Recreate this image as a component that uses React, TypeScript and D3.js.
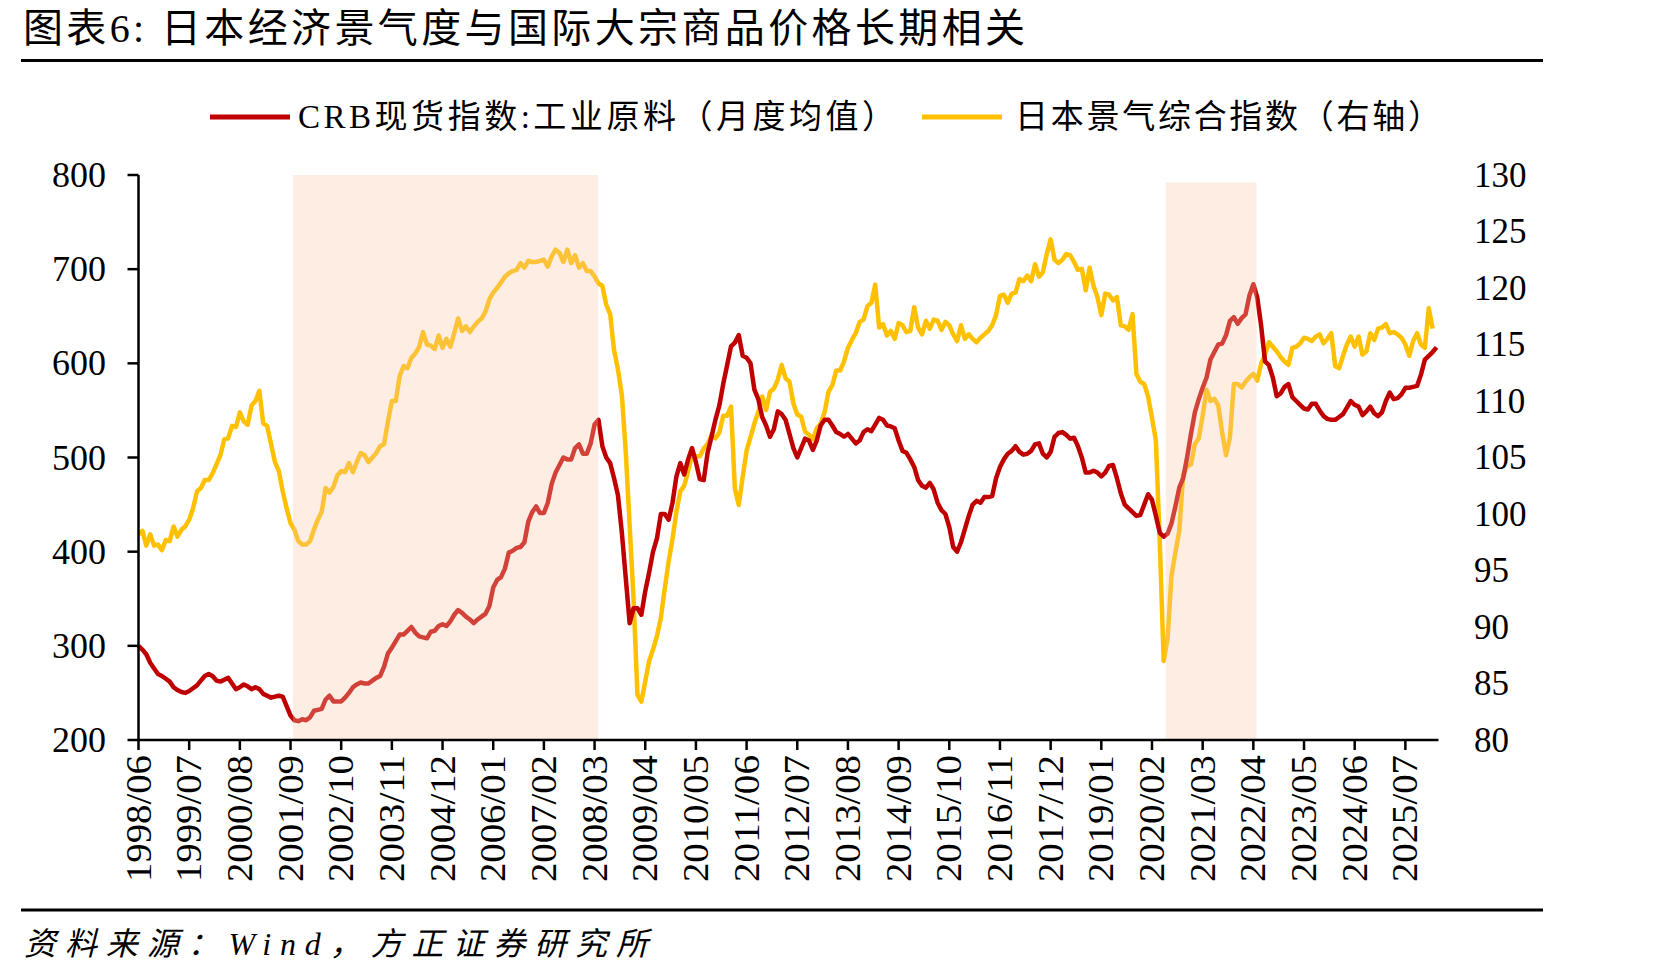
import * as d3 from "d3";
import React from "react";

// CRB spot index: industrials, monthly average, from 1998/06
const crb = [
  300, 296, 291, 282, 276, 270, 268, 265, 262, 256,
  253, 251, 250, 252, 255, 258, 263, 268, 270, 268,
  263, 262, 264, 266, 260, 254, 256, 259, 257, 254,
  256, 254, 249, 247, 245, 246, 247, 246, 236, 226,
  221, 220, 222, 221, 224, 231, 232, 233, 243, 247,
  241, 241, 241, 245, 250, 256, 259, 261, 260, 260,
  263, 266, 268, 278, 292, 298, 305, 312, 312, 316,
  320, 314, 310, 309, 308, 315, 316, 321, 323, 321,
  326, 333, 338, 335, 331, 328, 324, 328, 331, 334,
  342, 362, 370, 373, 382, 399, 401, 404, 405, 410,
  432, 442, 448, 441, 441, 452, 472, 484, 492, 500,
  498, 498, 510, 514, 504, 504, 515, 535, 540, 512,
  500, 494, 478, 460, 420, 372, 324, 340, 340, 333,
  358, 378, 400, 414, 440, 440, 434, 452, 480, 494,
  482, 498, 510, 495, 477, 476, 505, 522, 540, 555,
  578, 598, 618, 622, 630, 608, 606, 600, 572, 562,
  543, 534, 522, 530, 549, 546, 540, 525, 510, 500,
  510, 520, 518, 508, 518, 534, 540, 540, 534, 527,
  525, 522, 525, 520, 515, 518, 527, 530, 528, 535,
  542, 540, 534, 533, 531, 518, 507, 505, 498, 490,
  476, 470, 468, 473, 466, 452, 444, 440, 426, 405,
  400, 410, 424, 438, 450, 454, 452, 458, 458, 459,
  478, 490, 498, 504, 507, 512, 506, 503, 504, 507,
  514, 515, 504, 500, 506, 522, 526, 527, 524, 520,
  521, 512, 500, 484, 484, 486, 484, 480, 484, 491,
  492, 478, 462, 450, 446, 442, 438, 439, 450, 461,
  455, 438, 420, 416, 419, 430, 448, 468, 478, 500,
  525, 548, 562, 574, 585, 604, 612, 620, 621, 630,
  645, 649, 642, 648, 652, 672, 684, 670, 640, 602,
  598, 585, 565, 568, 575, 578, 564, 560, 556, 552,
  551, 557, 557, 550, 544, 541, 540, 540, 543, 546,
  553, 560, 556, 554, 545, 549, 554, 547, 544, 548,
  560, 569, 562, 563, 567, 574, 574, 575, 576, 588,
  604, 608, 612, 617,
];

// Japan composite business index (right axis), from 1998/06
const japan = [
  98.2, 98.5, 97.2, 98.2, 97.2, 97.3, 96.8, 97.7, 97.6, 98.9,
  98.0, 98.6, 98.9, 99.5, 100.5, 102.0, 102.3, 103.0, 103.0, 103.6,
  104.4, 105.2, 106.6, 106.7, 107.8, 107.7, 109.0, 108.2, 107.9, 109.6,
  110.0, 110.9, 108.0, 107.8, 106.2, 104.6, 103.8, 102.0, 100.5, 99.2,
  98.6, 97.6, 97.3, 97.3, 97.6, 98.6, 99.5, 100.2, 102.3, 101.9,
  102.4, 103.4, 103.8, 103.7, 104.5, 103.7, 104.6, 105.4, 105.2, 104.6,
  105.0, 105.4, 106.0, 106.2, 108.2, 110.0, 110.0, 112.2, 113.1, 112.9,
  113.8, 114.2, 114.8, 116.1, 115.0, 114.9, 114.6, 115.8, 114.7, 115.5,
  114.8, 116.0, 117.3, 116.2, 116.6, 116.1, 116.6, 117.0, 117.3, 117.9,
  119.0, 119.6, 120.0, 120.5, 121.0, 121.3, 121.5, 121.6, 122.2, 121.8,
  122.4, 122.3, 122.3, 122.4, 122.5, 121.9, 122.8, 123.4, 123.1, 122.3,
  123.4, 122.2, 122.9, 121.8, 122.2, 121.5, 121.5, 121.0, 120.4, 120.2,
  118.5, 117.7, 114.5, 112.8, 110.5, 105.5, 99.0, 92.5, 84.0, 83.4,
  85.2, 87.0, 88.0, 89.2, 90.8, 93.4, 95.8, 97.8, 100.2, 102.0,
  102.5, 103.8, 105.2, 105.1, 105.1, 105.8, 106.2, 107.0, 106.7, 107.2,
  108.7, 108.7, 109.5, 102.2, 100.8, 103.3, 105.6, 106.8, 108.0, 109.0,
  110.4, 109.2, 110.8, 111.1, 111.9, 113.2, 112.0, 111.7, 109.8, 108.8,
  108.6, 107.3, 107.0, 106.6, 107.6, 108.0, 109.0, 110.8, 111.4, 112.7,
  112.7, 113.5, 114.7, 115.4, 116.0, 117.0, 117.2, 118.4, 118.7, 120.3,
  116.5, 116.8, 115.8, 116.2, 115.5, 116.9, 116.7, 116.1, 116.2, 118.3,
  116.5, 115.9, 117.1, 116.4, 117.2, 117.1, 116.3, 117.0, 116.7, 115.9,
  115.3, 116.7, 115.5, 115.9, 115.5, 115.2, 115.6, 115.9, 116.2, 116.7,
  117.6, 119.3, 119.4, 118.7, 119.5, 119.6, 120.8, 120.6, 121.1, 120.6,
  122.1, 121.0, 121.4, 123.0, 124.3, 122.5, 122.2, 122.5, 123.0, 122.9,
  122.3, 121.6, 121.7, 119.8, 121.8, 120.2, 119.2, 117.6, 119.5, 119.4,
  118.9, 119.2, 116.7, 116.6, 116.3, 117.7, 112.4, 111.7, 111.5, 110.4,
  108.5, 106.5, 97.5, 87.0, 89.0, 94.5, 96.6, 98.5, 103.5, 104.2,
  104.4, 106.2, 106.7, 108.7, 111.0, 110.0, 110.2, 109.6, 107.2, 105.2,
  106.8, 111.5, 111.5, 111.2, 111.7, 112.1, 112.4, 111.8, 113.3, 114.1,
  115.2, 114.8, 114.4, 113.9, 113.5, 113.2, 114.7, 114.8, 115.1, 115.6,
  115.5, 115.3, 115.7, 115.9, 115.1, 115.5, 116.0, 113.1, 112.9, 114.0,
  115.0, 115.7, 114.8, 115.7, 114.1, 114.4, 116.0, 115.4, 116.4, 116.5,
  116.8, 116.0, 116.1, 115.9, 115.6, 115.0, 114.0, 115.3, 116.0, 115.0,
  114.7, 118.2, 116.4,
];

// x tick labels, every 13 months
const tickLabels = [
  "1998/06", "1999/07", "2000/08", "2001/09", "2002/10", "2003/11", "2004/12",
  "2006/01", "2007/02", "2008/03", "2009/04", "2010/05", "2011/06", "2012/07",
  "2013/08", "2014/09", "2015/10", "2016/11", "2017/12", "2019/01", "2020/02",
  "2021/03", "2022/04", "2023/05", "2024/06", "2025/07",
];
const tickStep = 13;

const leftTicks = [200, 300, 400, 500, 600, 700, 800];
const rightTicks = [80, 85, 90, 95, 100, 105, 110, 115, 120, 125, 130];

// shaded periods, in months since 1998/06; top given on the left axis
const shadeStart = [39.6, 263.5];
const shadeEnd = [117.9, 286.8];
const shadeTop = [800, 792];

const title = "图表6: 日本经济景气度与国际大宗商品价格长期相关";
const legendRed = "CRB现货指数:工业原料（月度均值）";
const legendYellow = "日本景气综合指数（右轴）";
const source = "资料来源：Wind，方正证券研究所";

const RED = "#C00000";
const YELLOW = "#FFC000";
const FONT = "'Liberation Serif', 'Noto Sans CJK SC', serif";

export default function App() {
  const W = 1671;
  const H = 980;
  const left = 138.5;
  const right = 1438.5;
  const top = 175;
  const bottom = 740;

  const x = d3.scaleLinear().domain([0, 333.5]).range([left, right]);
  const yL = d3.scaleLinear().domain([200, 800]).range([bottom, top]);
  const yR = d3.scaleLinear().domain([80, 130]).range([bottom, top]);

  const redLine = d3
    .line<number>()
    .x((_, i) => x(i))
    .y((d) => yL(d))(crb) as string;
  const yellowLine = d3
    .line<number>()
    .x((_, i) => x(i))
    .y((d) => yR(d))(japan) as string;

  return (
    <div style={{ position: "absolute", left: 0, top: 0 }}>
      <svg width={W} height={H} style={{ display: "block", background: "#fff" }} fontFamily={FONT}>
        {/* title */}
        <text x={23} y={28} fontSize={40} dominantBaseline="central" textLength={1002} lengthAdjust="spacing">
          {title}
        </text>
        <line x1={21} x2={1543} y1={60.5} y2={60.5} stroke="#000" strokeWidth={3} />

        {/* legend */}
        <line x1={210} x2={290} y1={117} y2={117} stroke={RED} strokeWidth={5} />
        <text x={298} y={117} fontSize={33} dominantBaseline="central" textLength={597} lengthAdjust="spacing">
          {legendRed}
        </text>
        <line x1={922} x2={1002} y1={117} y2={117} stroke={YELLOW} strokeWidth={5} />
        <text x={1015} y={117} fontSize={33} dominantBaseline="central" textLength={426} lengthAdjust="spacing">
          {legendYellow}
        </text>

        {/* series */}
        <path d={yellowLine} fill="none" stroke={YELLOW} strokeWidth={4.5} strokeLinejoin="round" />
        <path d={redLine} fill="none" stroke={RED} strokeWidth={4.5} strokeLinejoin="round" />

        {/* shaded periods, drawn over the lines */}
        {shadeStart.map((s, k) => (
          <rect
            key={k}
            x={x(s)}
            y={yL(shadeTop[k])}
            width={x(shadeEnd[k]) - x(s)}
            height={bottom - yL(shadeTop[k])}
            fill="rgb(248,200,170)"
            fillOpacity={0.33}
          />
        ))}

        {/* left axis */}
        <line x1={left} x2={left} y1={top} y2={bottom} stroke="#000" strokeWidth={2.5} />
        {leftTicks.map((t) => (
          <g key={t}>
            <line x1={left - 11} x2={left} y1={yL(t)} y2={yL(t)} stroke="#000" strokeWidth={2.5} />
            <text x={106} y={yL(t)} fontSize={36} textAnchor="end" dominantBaseline="central">
              {t}
            </text>
          </g>
        ))}

        {/* right axis labels */}
        {rightTicks.map((t) => (
          <text key={t} x={1474} y={yR(t)} fontSize={35} dominantBaseline="central">
            {t}
          </text>
        ))}

        {/* x axis */}
        <line x1={left} x2={right} y1={bottom} y2={bottom} stroke="#000" strokeWidth={2.5} />
        {tickLabels.map((lab, k) => {
          const xi = x(k * tickStep);
          return (
            <g key={lab}>
              <line x1={xi} x2={xi} y1={bottom} y2={bottom + 10} stroke="#000" strokeWidth={2.5} />
              <text
                transform={`translate(${xi},${bottom + 15}) rotate(-90)`}
                fontSize={36}
                textAnchor="end"
                dominantBaseline="central"
                textLength={127}
                lengthAdjust="spacingAndGlyphs"
              >
                {lab}
              </text>
            </g>
          );
        })}

        {/* footer */}
        <line x1={21} x2={1543} y1={910} y2={910} stroke="#000" strokeWidth={3} />
        <text
          x={24}
          y={944}
          fontSize={32}
          fontStyle="italic"
          dominantBaseline="central"
          textLength={624}
          lengthAdjust="spacing"
        >
          {source}
        </text>
      </svg>
    </div>
  );
}
